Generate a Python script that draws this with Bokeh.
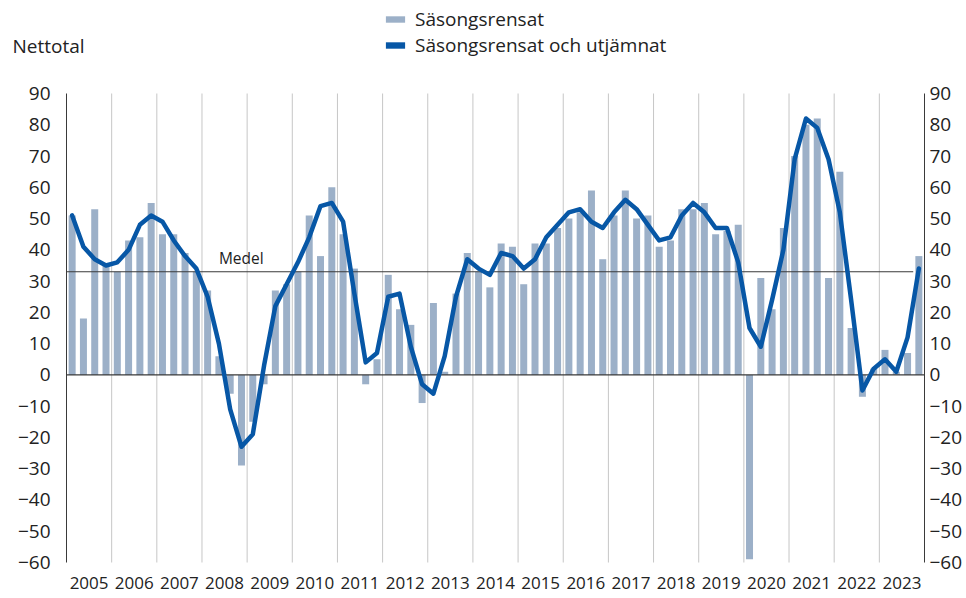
import numpy as np
from bokeh.plotting import figure
from bokeh.models import (Range1d, LinearAxis, FixedTicker, Legend, LegendItem,
                          Label, ColumnDataSource)
from bokeh.embed import file_html
from bokeh.resources import INLINE

# ---------------- data ----------------
years = list(range(2005, 2024))
quarters_per_year = 4

# Säsongsrensat (bars), quarterly 2005 Q1 - 2023 Q4
sasongsrensat = [
    51, 18, 53, 35, 33, 43, 44, 55, 45, 45, 39, 33, 27, 6, -6, -29, -15, -3, 27, 29,
    33, 51, 38, 60, 45, 34, -3, 5, 32, 21, 16, -9, 23, 1, 26, 39, 33, 28, 42, 41,
    29, 42, 42, 47, 50, 52, 59, 37, 51, 59, 50, 51, 41, 43, 53, 53, 55, 45, 46, 48,
    -59, 31, 21, 47, 70, 80, 82, 31, 65, 15, -7, 2, 8, 1, 7, 38,
]
# Säsongsrensat och utjämnat (line)
utjamnat = [
    51, 41, 37, 35, 36, 40, 48, 51, 49, 43, 38, 34, 25, 10, -11, -23, -19, 3, 22, 29,
    36, 44, 54, 55, 49, 26, 4, 7, 25, 26, 9, -3, -6, 6, 25, 37, 34, 32, 39, 38,
    34, 37, 44, 48, 52, 53, 49, 47, 52, 56, 53, 48, 43, 44, 51, 55, 52, 47, 47, 36,
    15, 9, 24, 40, 69, 82, 79, 69, 52, 24, -5, 2, 5, 1, 12, 34,
]
medel = 33
y_min, y_max = -60, 90
y_ticks = list(range(y_min, y_max + 1, 10))

legend_labels = ["Säsongsrensat", "Säsongsrensat och utjämnat"]
y_title = "Nettotal"
medel_text = "Medel"

# ---------------- style / layout ----------------
BAR_COLOR = "#9cb0c8"
LINE_COLOR = "#0757a6"
TEXT_COLOR = "#222222"
DARK = "#3a3a3a"
GRID = "#c6c6c6"
FONT = "Open Sans"

W, H = 966, 596           # canvas
PLOT_L, PLOT_R = 66, 924  # plot area in canvas pixels
PLOT_T, PLOT_B = 93, 562
FRAME_B = 574             # frame extends a little below the plot for the -60 labels

n = len(sasongsrensat)
x = np.arange(n)
x_lo, x_hi = -0.5, n - 0.5
sx = (PLOT_R - PLOT_L) / (x_hi - x_lo)
sy = (PLOT_B - PLOT_T) / (y_max - y_min)

p = figure(
    frame_width=W, frame_height=FRAME_B,
    x_range=Range1d(x_lo - PLOT_L / sx, x_hi + (W - PLOT_R) / sx),
    y_range=Range1d(y_min - (FRAME_B - PLOT_B) / sy, y_max + PLOT_T / sy),
    x_axis_location="below", y_axis_location=None,
    output_backend="svg", toolbar_location=None,
    min_border_left=0, min_border_right=0, min_border_top=0,
    min_border_bottom=H - FRAME_B,
)
p.outline_line_color = None
p.xgrid.visible = False
p.ygrid.visible = False

# bottom axis: year labels at year centres
year_centres = [k * quarters_per_year + 1.5 for k in range(len(years))]
p.xaxis.ticker = FixedTicker(ticks=year_centres)
p.xaxis.major_label_overrides = {c: str(yr) for c, yr in zip(year_centres, years)}
p.xaxis.axis_line_color = None
p.xaxis.major_tick_line_color = None
p.xaxis.minor_tick_line_color = None
p.xaxis.major_tick_out = 0
p.xaxis.major_tick_in = 0
p.xaxis.minor_tick_out = 0
p.xaxis.major_label_standoff = 2
p.xaxis.major_label_text_font = FONT
p.xaxis.major_label_text_font_size = "17px"
p.xaxis.major_label_text_color = TEXT_COLOR


def y_axis(loc, standoff):
    ax = LinearAxis(fixed_location=loc, bounds=(y_min, y_max),
                    ticker=FixedTicker(ticks=y_ticks))
    ax.axis_line_color = DARK
    ax.axis_line_width = 1
    ax.major_tick_line_color = None
    ax.minor_tick_line_color = None
    ax.major_tick_out = 0
    ax.major_tick_in = 0
    ax.minor_tick_out = 0
    ax.major_label_standoff = standoff
    ax.major_label_text_font = FONT
    ax.major_label_text_font_size = "19px"
    ax.major_label_text_color = TEXT_COLOR
    return ax


p.add_layout(y_axis(x_lo, 16), "left")
p.add_layout(y_axis(x_hi, 5), "right")

# vertical year separators
bounds = [k * quarters_per_year - 0.5 for k in range(1, len(years))]
p.segment(x0=bounds, x1=bounds, y0=[y_min] * len(bounds), y1=[y_max] * len(bounds),
          line_color=GRID, line_width=1)

# bars
src = ColumnDataSource(dict(x=x, top=sasongsrensat, line=utjamnat))
bars = p.vbar(x="x", top="top", width=0.62, source=src, fill_color=BAR_COLOR, line_color=None)

# zero line and mean line
p.segment(x0=[x_lo], x1=[x_hi], y0=[0], y1=[0], line_color=DARK, line_width=1.3)
p.segment(x0=[x_lo], x1=[n - 1.5], y0=[medel], y1=[medel], line_color=DARK, line_width=1.1)

# smoothed line
p.line(x="x", y="line", source=src, line_color=LINE_COLOR, line_width=4.5,
       line_join="round", line_cap="round")

# renderer used only for the legend square of the line (NaN data: draws nothing)
dummy = p.vbar(x=[np.nan], top=[np.nan], width=0.6, fill_color=LINE_COLOR, line_color=None)

legend = Legend(
    items=[LegendItem(label=legend_labels[0], renderers=[bars]),
           LegendItem(label=legend_labels[1], renderers=[dummy])],
    location=(383, FRAME_B - 58), orientation="vertical",
    glyph_width=24, glyph_height=8, label_standoff=8, spacing=-3,
    padding=0, margin=0, border_line_color=None, background_fill_alpha=0,
    label_text_font=FONT, label_text_font_size="19px",
    label_text_color=TEXT_COLOR, label_height=23,
)
p.add_layout(legend)

p.add_layout(Label(x=12, y=FRAME_B - 45, x_units="screen", y_units="screen", text=y_title,
                   text_baseline="middle", text_align="left", text_font=FONT,
                   text_font_size="19px", text_color=TEXT_COLOR))

p.add_layout(Label(x=13, y=medel, text=medel_text, text_baseline="alphabetic",
                   text_align="left", y_offset=14, text_font=FONT,
                   text_font_size="15.5px", text_color=TEXT_COLOR))

open("out.html", "w").write(file_html(p, INLINE))
